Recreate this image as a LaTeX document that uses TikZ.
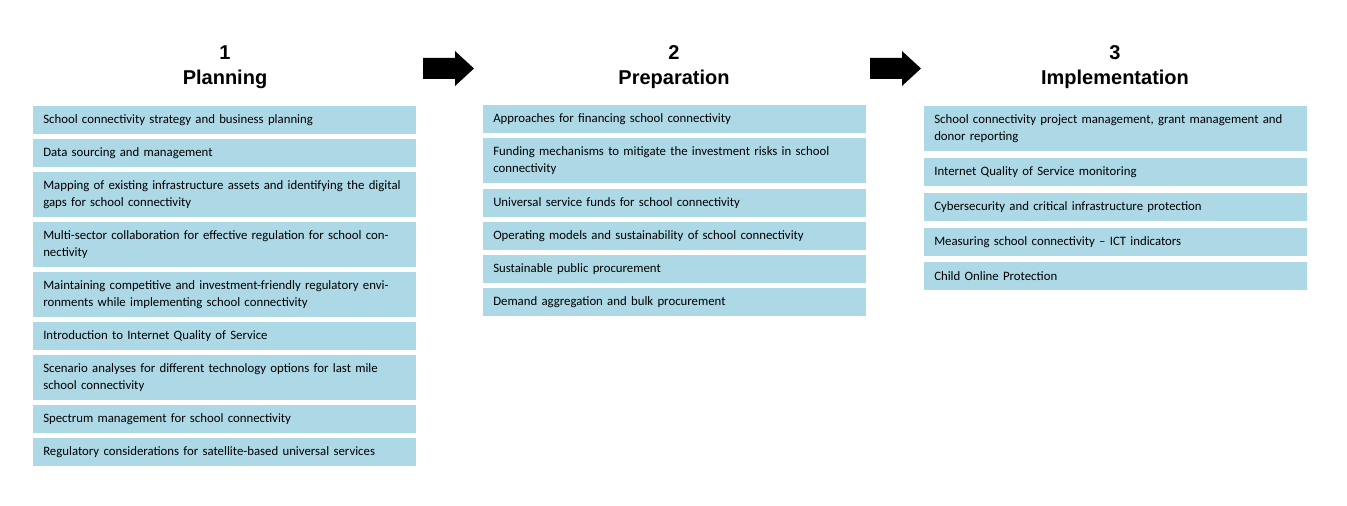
\documentclass[tikz,border=0pt]{standalone}
\usepackage{fontspec}
\setmainfont{Carlito}
\newfontfamily\headfont{Liberation Sans}
\definecolor{itemblue}{HTML}{ADD8E6}
\tikzset{
  item/.style={fill=itemblue, anchor=north west, align=left, text width=363*0.75pt,
    inner xsep=10*0.75pt, inner ysep=0pt, font=\fontsize{9.6}{12.7}\selectfont},
  one/.style={item, minimum height=28*0.75pt},
  two/.style={item, minimum height=45*0.75pt},
  head/.style={align=center, font=\headfont\bfseries\fontsize{15}{19}\selectfont},
  bigarrow/.style={fill=black}
}
\begin{document}
\begin{tikzpicture}[x=0.75pt,y=-0.75pt]
  \useasboundingbox (0,0) rectangle (1347,506);
  % Headings
  \node[head] (h1) at (225,67) {1\\Planning};
  \node[head] (h2) at (674,67) {2\\Preparation};
  \node[head] (h3) at (1115,67) {3\\Implementation};
  % Arrows
  \foreach \a in {423,870} {
    \fill[bigarrow] (\a,58) -- (\a+32,58) -- (\a+32,51) -- (\a+51,68.5) -- (\a+32,86) -- (\a+32,79) -- (\a,79) -- cycle;
  }
  % Planning
  \node[one] (p1) at (33,106) {School connectivity strategy and business planning};
  \node[one] (p2) at (33,139) {Data sourcing and management};
  \node[two] (p3) at (33,172) {Mapping of existing infrastructure assets and identifying the digital gaps for school connectivity};
  \node[two] (p4) at (33,222) {Multi-sector collaboration for effective regulation for school connectivity};
  \node[two] (p5) at (33,272) {Maintaining competitive and investment-friendly regulatory environments while implementing school connectivity};
  \node[one] (p6) at (33,322) {Introduction to Internet Quality of Service};
  \node[two] (p7) at (33,355) {Scenario analyses for different technology options for last mile school connectivity};
  \node[one] (p8) at (33,405) {Spectrum management for school connectivity};
  \node[one] (p9) at (33,438) {Regulatory considerations for satellite-based universal services};
  % Preparation
  \node[one] (r1) at (483,105) {Approaches for financing school connectivity};
  \node[two] (r2) at (483,138) {Funding mechanisms to mitigate the investment risks in school connectivity};
  \node[one] (r3) at (483,189) {Universal service funds for school connectivity};
  \node[one] (r4) at (483,222) {Operating models and sustainability of school connectivity};
  \node[one] (r5) at (483,255) {Sustainable public procurement};
  \node[one] (r6) at (483,288) {Demand aggregation and bulk procurement};
  % Implementation
  \node[two] (i1) at (924,106) {School connectivity project management, grant management and donor reporting};
  \node[one] (i2) at (924,158) {Internet Quality of Service monitoring};
  \node[one] (i3) at (924,193) {Cybersecurity and critical infrastructure protection};
  \node[one] (i4) at (924,228) {Measuring school connectivity – ICT indicators};
  \node[one] (i5) at (924,262) {Child Online Protection};
\end{tikzpicture}
\end{document}
